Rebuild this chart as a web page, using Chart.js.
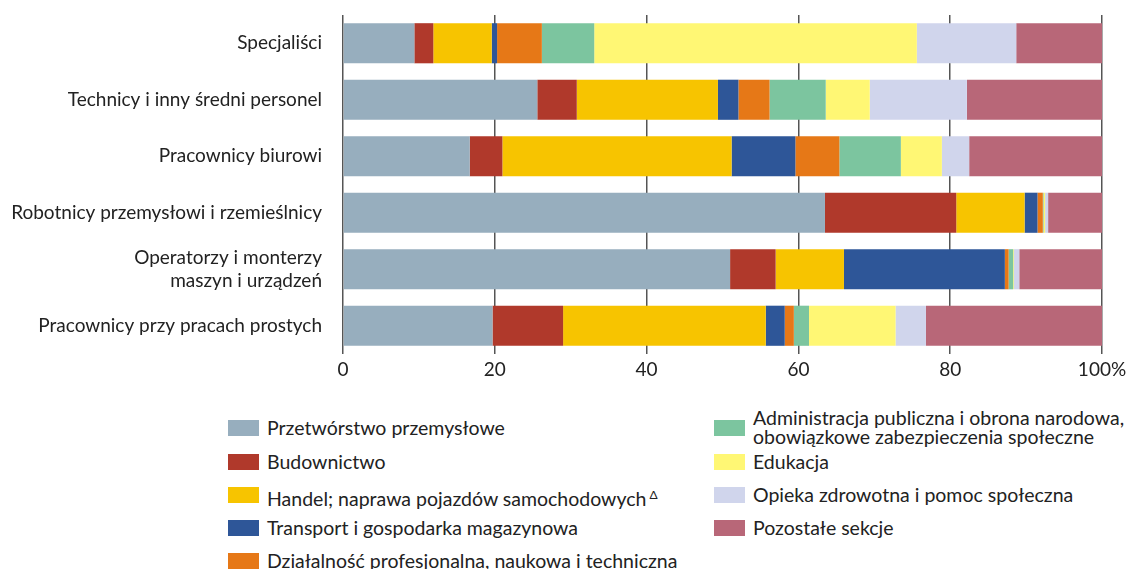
<!DOCTYPE html>
<html>
<head>
<meta charset="utf-8">
<script src="https://cdn.jsdelivr.net/npm/chart.js@4"></script>
<style>
  body { margin: 0; background: #fff; }
  #wrap { position: relative; width: 1136px; height: 569px; overflow: hidden; }
  #chart { position: absolute; left: 0; top: 0; }
  .item { position: absolute; font-family: Lato, sans-serif; font-size: 19.5px; color: #222; line-height: 19px; white-space: nowrap; }
  .sw { position: absolute; width: 31px; height: 16px; }
  .item sup { font-size: 12px; vertical-align: 7px; margin-left: 3px; }
</style>
</head>
<body>
<div id="wrap">
  <canvas id="chart" width="1136" height="390"></canvas>
  <div id="legend"></div>
</div>
<script>
// categories (occupational groups)
const categories = [
  'Specjaliści',
  'Technicy i inny średni personel',
  'Pracownicy biurowi',
  'Robotnicy przemysłowi i rzemieślnicy',
  ['Operatorzy i monterzy', 'maszyn i urządzeń'],
  'Pracownicy przy pracach prostych'
];

// share of each sector, %
const przetworstwo  = [9.4, 25.6, 16.7, 63.5, 51.0, 19.7];
const budownictwo   = [2.5, 5.2, 4.3, 17.3, 6.0, 9.3];
const handel        = [7.7, 18.6, 30.2, 9.0, 9.0, 26.7];
const transport     = [0.7, 2.7, 8.4, 1.7, 21.2, 2.5];
const dzialalnosc   = [5.9, 4.1, 5.8, 0.7, 0.5, 1.2];
const administracja = [6.9, 7.4, 8.1, 0.1, 0.6, 2.0];
const edukacja      = [42.5, 5.8, 5.4, 0.2, 0.1, 11.4];
const opieka        = [13.1, 12.8, 3.6, 0.4, 0.7, 4.0];
const pozostale     = [11.3, 17.8, 17.5, 7.1, 10.9, 23.2];

const xTicks = [0, 20, 40, 60, 80, 100];

const seriesNames = [
  'Przetwórstwo przemysłowe',
  'Budownictwo',
  'Handel; naprawa pojazdów samochodowych',
  'Transport i gospodarka magazynowa',
  'Działalność profesjonalna, naukowa i techniczna',
  'Administracja publiczna i obrona narodowa, obowiązkowe zabezpieczenia społeczne',
  'Edukacja',
  'Opieka zdrowotna i pomoc społeczna',
  'Pozostałe sekcje'
];
const seriesData = [przetworstwo, budownictwo, handel, transport, dzialalnosc,
                    administracja, edukacja, opieka, pozostale];
const colors = ['#97aebe', '#b0392b', '#f7c400', '#2e5698', '#e67817',
                '#7cc59f', '#fff774', '#d0d5ec', '#b86778'];

const datasets = seriesNames.map((name, i) => ({
  label: name,
  data: seriesData[i],
  backgroundColor: colors[i],
  borderWidth: 0,
  barPercentage: 0.71,
  categoryPercentage: 1
}));

new Chart(document.getElementById('chart'), {
  type: 'bar',
  data: { labels: categories, datasets: datasets },
  options: {
    indexAxis: 'y',
    responsive: false,
    animation: false,
    devicePixelRatio: 1,
    layout: { padding: { top: 15, right: 34, left: 0, bottom: 0 } },
    plugins: { legend: { display: false }, tooltip: { enabled: false } },
    scales: {
      x: {
        stacked: true,
        min: 0, max: 100,
        afterBuildTicks: s => { s.ticks = xTicks.map(v => ({ value: v })); },
        afterFit: s => { s.height = 36; },
        ticks: {
          padding: 4,
          color: '#222',
          font: { family: 'Lato', size: 19 },
          callback: v => v === 100 ? '100%' : v
        },
        grid: { color: '#555', lineWidth: 1.5, drawTicks: false },
        border: { display: false }
      },
      y: {
        stacked: true,
        afterFit: s => { s.width = 343; s.paddingTop = 0; s.paddingBottom = 0; },
        ticks: {
          padding: 13,
          color: '#222',
          font: { family: 'Lato', size: 19, lineHeight: 1.2 }
        },
        grid: { display: false },
        border: { display: false }
      }
    }
  }
});

// legend in two columns, like the original
const legendPos = [
  [228, 420], [228, 454], [228, 487], [228, 520], [228, 553],
  [714, 420], [714, 454], [714, 487], [714, 520]
];
const legendLabels = seriesNames.slice();
legendLabels[2] = 'Handel; naprawa pojazdów samochodowych<sup>Δ</sup>';
legendLabels[5] = 'Administracja publiczna i obrona narodowa,<br>obowiązkowe zabezpieczenia społeczne';
const legend = document.getElementById('legend');
legendLabels.forEach((txt, i) => {
  const [x, y] = legendPos[i];
  const sw = document.createElement('div');
  sw.className = 'sw';
  sw.style.left = x + 'px';
  sw.style.top = y + 'px';
  sw.style.background = colors[i];
  legend.appendChild(sw);
  const t = document.createElement('div');
  t.className = 'item';
  t.style.left = (x + 39) + 'px';
  t.style.top = (i === 5 ? y - 12 : y - 2) + 'px';
  t.innerHTML = txt;
  legend.appendChild(t);
});
</script>
</body>
</html>
